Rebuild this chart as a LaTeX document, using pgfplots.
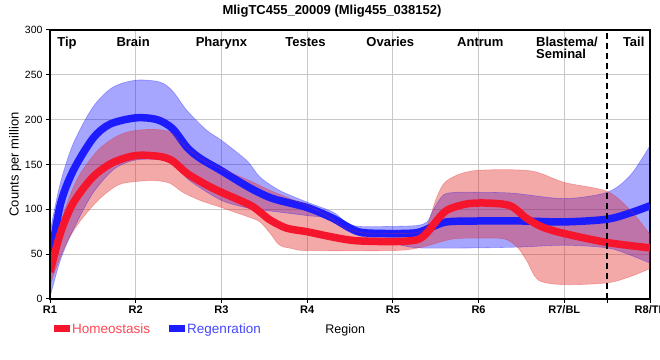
\documentclass[border=0pt]{standalone}
\usepackage{fontspec}
\setmainfont{Liberation Sans}
\usepackage{pgfplots}
\pgfplotsset{compat=1.18}
\usepgfplotslibrary{fillbetween}
\definecolor{bandB}{RGB}{0,0,255}
\definecolor{lineB}{RGB}{28,28,255}
\definecolor{bandR}{RGB}{228,40,40}
\definecolor{lineR}{RGB}{245,22,45}
\definecolor{gridc}{RGB}{200,200,200}
\definecolor{legR}{RGB}{255,70,85}
\definecolor{legB}{RGB}{70,70,255}
\begin{document}
\begin{tikzpicture}
\begin{axis}[
  scale only axis, width=600pt, height=269pt,
  xmin=0, xmax=7, ymin=0, ymax=300,
  xtick={0,...,7},
  xticklabels={R1,R2,R3,R4,R5,R6,R7/BL,R8/TL},
  extra x ticks={6.5}, extra x tick labels={}, extra x tick style={grid=none},
  ytick={0,50,...,300},
  grid=major, major grid style={gridc, line width=0.9pt},
  axis line style={black, line width=1.3pt},
  tick align=outside, major tick length=4pt,
  tick style={black, line width=1pt},
  xtick pos=bottom, ytick pos=left,
  /pgf/number format/assume math mode=true,
  xticklabel style={font=\bfseries\fontsize{11}{13}\selectfont, yshift=1pt},
  yticklabel style={font=\fontsize{10.5}{12}\selectfont},
  ylabel={Counts per million},
  ylabel style={at={(axis description cs:-0.058,0.5)}, anchor=center, font=\fontsize{13}{15}\selectfont},
  xlabel={Region},
  xlabel style={at={(axis description cs:0.492,-0.115)}, anchor=center, font=\fontsize{12.5}{14}\selectfont},
  title={MligTC455\_20009 (Mlig455\_038152)},
  title style={at={(axis description cs:0.47,1)}, anchor=base, yshift=9pt, font=\bfseries\fontsize{13}{15}\selectfont},
  legend style={at={(axis description cs:0,-0.1115)}, anchor=west, xshift=4pt,
    draw=none, fill=none, inner sep=0pt, font=\fontsize{13.5}{15}\selectfont,
    /tikz/every even column/.append style={column sep=17pt}},
  legend columns=2,
  legend cell align=left,
]
\addlegendimage{legend image code/.code={\path[fill=lineR, draw=none] (0pt,-3pt) rectangle (16pt,3.5pt);}}
\addlegendentry{\textcolor{legR}{Homeostasis}}
\addlegendimage{legend image code/.code={\path[fill=lineB, draw=none] (0pt,-3pt) rectangle (16pt,3.5pt);}}
\addlegendentry{\textcolor{legB}{Regenration}}

% Regeneration band
\addplot[name path=bu, draw=bandB, draw opacity=0.3, line width=0.6pt, smooth, forget plot] coordinates {
(0,75)(0.12,129)(0.27,173)(0.5,214)(0.73,236)(1.0,244)(1.28,242)(1.43,232)(1.6,210)(1.83,188)(2.0,177)(2.3,154)(2.45,136)(2.68,121)(3.0,108)(3.3,97)(3.45,86)(3.6,81)(4.0,81)(4.28,82)(4.4,86)(4.47,99)(4.59,116)(4.75,119)(5.0,119)(5.4,118)(6.0,112)(6.5,119)(6.77,138)(7.0,171)};
\addplot[name path=bl, draw=bandB, draw opacity=0.3, line width=0.6pt, smooth, forget plot] coordinates {
(0,2)(0.12,43)(0.27,77)(0.5,118)(0.75,145)(1.0,155)(1.3,155)(1.48,147)(1.63,132)(2.0,110)(2.33,101)(2.5,99)(3.0,93)(3.23,90)(3.5,75)(3.8,65)(4.0,62)(4.3,57)(5.0,57)(5.5,58)(6.0,60)(6.5,57)(6.77,49)(7.0,40)};
\addplot[fill=bandB, fill opacity=0.35, draw=none, forget plot] fill between[of=bu and bl];
% Regeneration mean
\addplot[lineB, line width=7.5pt, smooth, forget plot] coordinates {
(0,40)(0.12,105)(0.27,143)(0.5,179)(0.7,195)(1.0,202)(1.25,200)(1.43,190)(1.6,169)(1.75,157)(2.0,143)(2.33,124)(2.6,112)(3.0,102)(3.3,90)(3.5,79)(3.65,74)(4.0,73)(4.28,74)(4.45,80)(4.63,86)(5.0,87)(5.5,87)(6.0,86)(6.5,89)(6.8,97)(7.0,104)};

% Homeostasis band
\addplot[name path=ru, draw=bandR, draw opacity=0.35, line width=0.6pt, smooth, forget plot] coordinates {
(0,45)(0.17,99)(0.33,136)(0.56,166)(0.79,182)(1.0,188)(1.23,189)(1.4,186)(1.55,173)(1.75,157)(2.0,145)(2.33,132)(2.57,121)(3.0,104)(3.23,93)(3.45,79)(3.7,73)(4.0,73)(4.28,74)(4.4,82)(4.51,113)(4.63,132)(4.94,143)(5.6,143)(6.0,130)(6.5,120)(6.77,99)(7.0,72)};
\addplot[name path=rl, draw=bandR, draw opacity=0.35, line width=0.6pt, smooth, forget plot] coordinates {
(0,16)(0.17,58)(0.33,84)(0.56,110)(0.79,127)(1.0,131)(1.23,132)(1.4,129)(1.55,119)(1.75,110)(2.0,102)(2.33,91)(2.45,86)(2.57,73)(2.68,60)(2.84,56)(3.0,54)(4.0,54)(4.3,57)(4.5,62)(4.7,67)(5.0,68)(5.3,67)(5.45,58)(5.56,43)(5.7,21)(6.0,16)(6.5,18)(6.77,25)(7.0,34)};
\addplot[fill=bandR, fill opacity=0.4, draw=none, forget plot] fill between[of=ru and rl];
% Homeostasis mean
\addplot[lineR, line width=7.5pt, smooth, forget plot] coordinates {
(0,30)(0.12,73)(0.27,107)(0.5,136)(0.73,152)(1.0,160)(1.28,159)(1.43,154)(1.6,140)(1.83,127)(2.0,119)(2.33,105)(2.45,97)(2.57,88)(2.76,79)(3.0,75)(3.3,69)(3.57,65)(4.0,64)(4.28,66)(4.4,74)(4.5,86)(4.63,99)(4.86,106)(5.1,107)(5.37,104)(5.56,90)(5.75,80)(6.0,73)(6.5,63)(7.0,57)};

% divider
\addplot[black, line width=2.3pt, dash pattern=on 6pt off 4pt, forget plot] coordinates {(6.5,0)(6.5,300)};

% thicker left and bottom axis lines
\draw[black, line width=2.2pt] (rel axis cs:0,1) -- (rel axis cs:0,0) -- (rel axis cs:1,0);

% region labels
\begin{scope}[every node/.style={font=\bfseries\fontsize{13}{15}\selectfont, inner sep=0pt}]
\node[anchor=base] at (axis cs:0.198,282) {Tip};
\node[anchor=base] at (axis cs:0.97,282) {Brain};
\node[anchor=base] at (axis cs:2.0,282) {Pharynx};
\node[anchor=base] at (axis cs:2.98,282) {Testes};
\node[anchor=base] at (axis cs:3.97,282) {Ovaries};
\node[anchor=base] at (axis cs:5.02,282) {Antrum};
\node[anchor=base west] at (axis cs:5.67,282) {Blastema/};
\node[anchor=base west] at (axis cs:5.67,268) {Seminal};
\node[anchor=base] at (axis cs:6.81,282) {Tail};
\end{scope}

\coordinate (bl) at (rel axis cs:0,0);
\coordinate (tr) at (rel axis cs:1,1);
\end{axis}
\pgfresetboundingbox
\path ([xshift=-50pt,yshift=-61pt]bl) rectangle ([xshift=10pt,yshift=30pt]tr);
\end{tikzpicture}
\end{document}
